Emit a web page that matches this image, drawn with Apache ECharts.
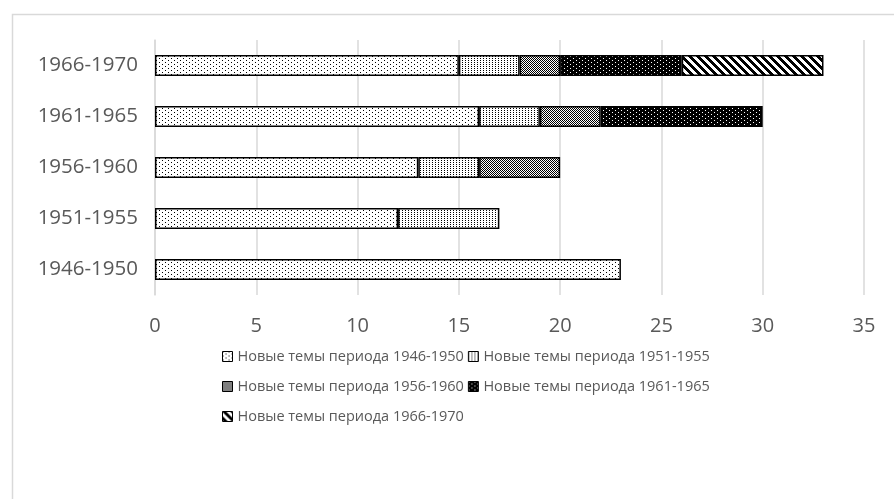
<!DOCTYPE html>
<html>
<head>
<meta charset="utf-8">
<script src="https://cdn.jsdelivr.net/npm/echarts@6/dist/echarts.min.js"></script>
<style>
  html, body { margin: 0; padding: 0; background: #fff; }
  #chart { width: 894px; height: 499px; }
</style>
</head>
<body>
<div id="chart"></div>
<script>
// данные
const periods = ["1946-1950", "1951-1955", "1956-1960", "1961-1965", "1966-1970"];
const seriesNames = [
  "Новые темы периода 1946-1950",
  "Новые темы периода 1951-1955",
  "Новые темы периода 1956-1960",
  "Новые темы периода 1961-1965",
  "Новые темы периода 1966-1970"
];
const themes1946 = [23, 12, 13, 16, 15];
const themes1951 = [0, 5, 3, 3, 3];
const themes1956 = [0, 0, 4, 3, 2];
const themes1961 = [0, 0, 0, 8, 6];
const themes1966 = [0, 0, 0, 0, 7];
const xTicks = [0, 5, 10, 15, 20, 25, 30, 35];

const values = [themes1946, themes1951, themes1956, themes1961, themes1966];

// штриховки
function makePattern(w, h, bg, fg, painter) {
  const c = document.createElement("canvas");
  c.width = w;
  c.height = h;
  const ctx = c.getContext("2d");
  ctx.fillStyle = bg;
  ctx.fillRect(0, 0, w, h);
  ctx.fillStyle = fg;
  painter(ctx);
  return { image: c, repeat: "repeat" };
}

const patterns = [
  makePattern(6, 4, "#fff", "#000", (ctx) => {
    ctx.fillRect(0, 0, 1, 1);
    ctx.fillRect(3, 2, 1, 1);
  }),
  makePattern(3, 2, "#fff", "#000", (ctx) => {
    ctx.fillRect(0, 0, 1, 1);
  }),
  makePattern(2, 2, "#fff", "#000", (ctx) => {
    ctx.fillRect(0, 0, 1, 1);
    ctx.fillRect(1, 1, 1, 1);
  }),
  makePattern(6, 4, "#000", "#fff", (ctx) => {
    ctx.fillRect(0, 0, 1, 1);
    ctx.fillRect(3, 2, 1, 1);
  }),
  makePattern(8, 8, "#fff", "#000", (ctx) => {
    for (let y = 0; y < 8; y++) {
      for (let x = 0; x < 8; x++) {
        if (((x - y) % 8 + 8) % 8 < 4) ctx.fillRect(x, y, 1, 1);
      }
    }
  })
];

const chart = echarts.init(document.getElementById("chart"));

const legendText = {
  fontFamily: "Open Sans",
  fontSize: 14.5,
  color: "#595959"
};

function legendRow(names, top) {
  return {
    left: 217,
    top: top,
    orient: "horizontal",
    itemWidth: 10,
    itemHeight: 10,
    itemGap: 4,
    icon: "rect",
    itemStyle: { borderColor: "#000", borderWidth: 1 },
    textStyle: legendText,
    data: names
  };
}

const option = {
  animation: false,
  backgroundColor: "#fff",
  graphic: [{
    type: "rect",
    left: 10,
    top: 12,
    shape: { width: 1000, height: 1000 },
    style: { fill: "none", stroke: "#d9d9d9", lineWidth: 1.5 },
    silent: true
  }],
  grid: { left: 155, right: 30, top: 40, bottom: 204, containLabel: false },
  legend: [
    legendRow(seriesNames.slice(0, 2), 344),
    legendRow(seriesNames.slice(2, 4), 374),
    legendRow(seriesNames.slice(4), 404)
  ],
  xAxis: {
    type: "value",
    min: xTicks[0],
    max: xTicks[xTicks.length - 1],
    interval: 5,
    axisLine: { show: false },
    axisTick: { show: false },
    splitLine: { lineStyle: { color: "#d9d9d9", width: 1.5 } },
    axisLabel: {
      margin: 21,
      fontFamily: "Open Sans",
      fontSize: 20,
      color: "#595959"
    }
  },
  yAxis: {
    type: "category",
    data: periods,
    axisLine: { lineStyle: { color: "#d9d9d9", width: 1.5 } },
    axisTick: { show: false },
    axisLabel: {
      margin: 17,
      fontFamily: "Open Sans",
      fontSize: 20.5,
      color: "#595959"
    }
  },
  series: seriesNames.map((name, i) => ({
    name: name,
    type: "bar",
    stack: "total",
    barWidth: 21,
    data: values[i].map((v) => (v === 0 ? null : v)),
    itemStyle: {
      color: patterns[i],
      borderColor: "#000",
      borderWidth: 1.5
    }
  }))
};

chart.setOption(option);
</script>
</body>
</html>
